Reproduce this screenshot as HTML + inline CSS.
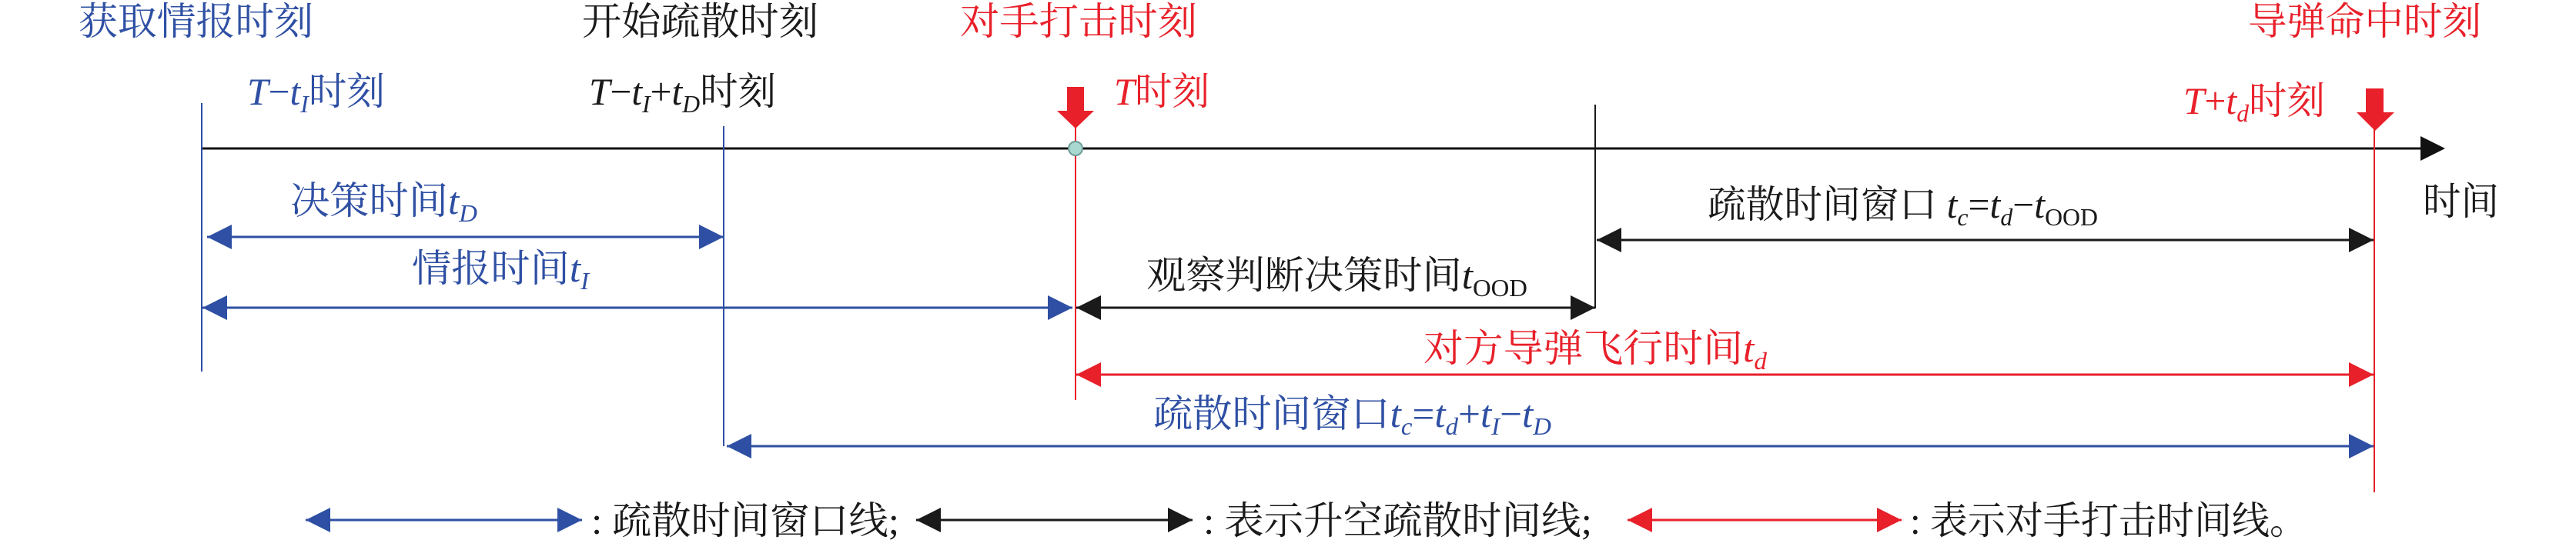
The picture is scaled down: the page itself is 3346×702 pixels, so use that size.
<!DOCTYPE html>
<html><head><meta charset="utf-8"><style>
html,body{margin:0;padding:0;background:#fff;}
svg{display:block;}
text{font-family:"Liberation Serif","Noto Serif CJK SC",serif;font-size:50px;}
.b{fill:#2e4fa3}.r{fill:#e8202a}.k{fill:#1a1a1a}
</style></head><body>
<svg width="3346" height="702" viewBox="0 0 3346 702" xmlns="http://www.w3.org/2000/svg">
<defs>
<marker id="ab" viewBox="0 0 10 10" refX="10" refY="5" markerWidth="32" markerHeight="32" markerUnits="userSpaceOnUse" orient="auto-start-reverse"><path d="M0,0L10,5L0,10z" fill="#2e4fa3"/></marker>
<marker id="ak" viewBox="0 0 10 10" refX="10" refY="5" markerWidth="32" markerHeight="32" markerUnits="userSpaceOnUse" orient="auto-start-reverse"><path d="M0,0L10,5L0,10z" fill="#1a1a1a"/></marker>
<marker id="ar" viewBox="0 0 10 10" refX="10" refY="5" markerWidth="32" markerHeight="32" markerUnits="userSpaceOnUse" orient="auto-start-reverse"><path d="M0,0L10,5L0,10z" fill="#e8202a"/></marker>
</defs>
<!-- axis -->
<line x1="262" y1="193" x2="3150" y2="193" stroke="#111" stroke-width="3"/>
<path d="M3144,177L3176,193L3144,209z" fill="#111"/>
<!-- verticals -->
<line x1="262" y1="134" x2="262" y2="483" stroke="#2e4fa3" stroke-width="2"/>
<line x1="940" y1="164" x2="940" y2="580" stroke="#2e4fa3" stroke-width="2"/>
<line x1="1397" y1="160" x2="1397" y2="520" stroke="#e8202a" stroke-width="2"/>
<line x1="2072" y1="136" x2="2072" y2="401" stroke="#1a1a1a" stroke-width="2"/>
<line x1="3084" y1="165" x2="3084" y2="640" stroke="#e8202a" stroke-width="2"/>
<!-- red down arrows -->
<path d="M1386,113H1408V144H1421L1397,167L1373,144H1386z" fill="#e8202a"/>
<path d="M3073,115H3096V146H3110L3085,170L3061,146H3073z" fill="#e8202a"/>
<ellipse cx="1397" cy="193" rx="9" ry="9" fill="#a8d8d0" stroke="#6f9a98" stroke-width="2"/>
<!-- arrows -->
<line x1="269" y1="308" x2="940" y2="308" stroke="#2e4fa3" stroke-width="3" marker-start="url(#ab)" marker-end="url(#ab)"/>
<line x1="263" y1="400" x2="1393" y2="400" stroke="#2e4fa3" stroke-width="3" marker-start="url(#ab)" marker-end="url(#ab)"/>
<line x1="1398" y1="400" x2="2072" y2="400" stroke="#1a1a1a" stroke-width="3" marker-start="url(#ak)" marker-end="url(#ak)"/>
<line x1="2074" y1="312" x2="3083" y2="312" stroke="#1a1a1a" stroke-width="3" marker-start="url(#ak)" marker-end="url(#ak)"/>
<line x1="1398" y1="487" x2="3083" y2="487" stroke="#e8202a" stroke-width="3" marker-start="url(#ar)" marker-end="url(#ar)"/>
<line x1="944" y1="580" x2="3083" y2="580" stroke="#2e4fa3" stroke-width="3" marker-start="url(#ab)" marker-end="url(#ab)"/>
<!-- legend -->
<line x1="397" y1="676" x2="756" y2="676" stroke="#2e4fa3" stroke-width="3" marker-start="url(#ab)" marker-end="url(#ab)"/>
<line x1="1190" y1="676" x2="1549" y2="676" stroke="#1a1a1a" stroke-width="3" marker-start="url(#ak)" marker-end="url(#ak)"/>
<line x1="2114" y1="676" x2="2470" y2="676" stroke="#e8202a" stroke-width="3" marker-start="url(#ar)" marker-end="url(#ar)"/>
<!-- top labels -->
<text class="b" x="102" y="45" textLength="305" lengthAdjust="spacingAndGlyphs">获取情报时刻</text>
<text class="k" x="756" y="45" textLength="307" lengthAdjust="spacingAndGlyphs">开始疏散时刻</text>
<text class="r" x="1247" y="45" textLength="308" lengthAdjust="spacingAndGlyphs">对手打击时刻</text>
<text class="r" x="2920" y="45" textLength="303" lengthAdjust="spacingAndGlyphs">导弹命中时刻</text>
<text class="b" x="321" y="136" textLength="179" lengthAdjust="spacingAndGlyphs"><tspan font-style="italic">T</tspan>−<tspan font-style="italic">t</tspan><tspan font-style="italic" font-size="32" dy="10">I</tspan><tspan dy="-10">时刻</tspan></text>
<text class="k" x="765" y="136" textLength="243" lengthAdjust="spacingAndGlyphs"><tspan font-style="italic">T</tspan>−<tspan font-style="italic">t</tspan><tspan font-style="italic" font-size="32" dy="10">I</tspan><tspan dy="-10">+</tspan><tspan font-style="italic">t</tspan><tspan font-style="italic" font-size="32" dy="10">D</tspan><tspan dy="-10">时刻</tspan></text>
<text class="r" x="1447" y="136" textLength="124" lengthAdjust="spacingAndGlyphs"><tspan font-style="italic">T</tspan>时刻</text>
<text class="r" x="2836" y="148" textLength="184" lengthAdjust="spacingAndGlyphs"><tspan font-style="italic">T</tspan>+<tspan font-style="italic">t</tspan><tspan font-style="italic" font-size="32" dy="10">d</tspan><tspan dy="-10">时刻</tspan></text>
<text class="k" x="3147" y="279" textLength="99" lengthAdjust="spacingAndGlyphs">时间</text>
<!-- arrow labels -->
<text class="b" x="377" y="278" textLength="243" lengthAdjust="spacingAndGlyphs">决策时间<tspan font-style="italic">t</tspan><tspan font-style="italic" font-size="32" dy="10">D</tspan></text>
<text class="b" x="535" y="366" textLength="230" lengthAdjust="spacingAndGlyphs">情报时间<tspan font-style="italic">t</tspan><tspan font-style="italic" font-size="32" dy="10">I</tspan></text>
<text class="k" x="1489" y="375" textLength="495" lengthAdjust="spacingAndGlyphs">观察判断决策时间<tspan font-style="italic">t</tspan><tspan font-size="32" dy="10">OOD</tspan></text>
<text class="k" x="2218" y="283" textLength="507" lengthAdjust="spacingAndGlyphs">疏散时间窗口 <tspan font-style="italic">t</tspan><tspan font-style="italic" font-size="32" dy="10">c</tspan><tspan dy="-10">=</tspan><tspan font-style="italic">t</tspan><tspan font-style="italic" font-size="32" dy="10">d</tspan><tspan dy="-10">−</tspan><tspan font-style="italic">t</tspan><tspan font-size="32" dy="10">OOD</tspan></text>
<text class="r" x="1849" y="470" textLength="446" lengthAdjust="spacingAndGlyphs">对方导弹飞行时间<tspan font-style="italic">t</tspan><tspan font-style="italic" font-size="32" dy="10">d</tspan></text>
<text class="b" x="1498" y="555" textLength="517" lengthAdjust="spacingAndGlyphs">疏散时间窗口<tspan font-style="italic">t</tspan><tspan font-style="italic" font-size="32" dy="10">c</tspan><tspan dy="-10">=</tspan><tspan font-style="italic">t</tspan><tspan font-style="italic" font-size="32" dy="10">d</tspan><tspan dy="-10">+</tspan><tspan font-style="italic">t</tspan><tspan font-style="italic" font-size="32" dy="10">I</tspan><tspan dy="-10">−</tspan><tspan font-style="italic">t</tspan><tspan font-style="italic" font-size="32" dy="10">D</tspan></text>
<!-- legend text -->
<text class="k" x="768" y="694" textLength="400" lengthAdjust="spacingAndGlyphs">: 疏散时间窗口线;</text>
<text class="k" x="1563" y="694" textLength="505" lengthAdjust="spacingAndGlyphs">: 表示升空疏散时间线;</text>
<text class="k" x="2481" y="694" textLength="516" lengthAdjust="spacingAndGlyphs">: 表示对手打击时间线。</text>
</svg>
</body></html>
